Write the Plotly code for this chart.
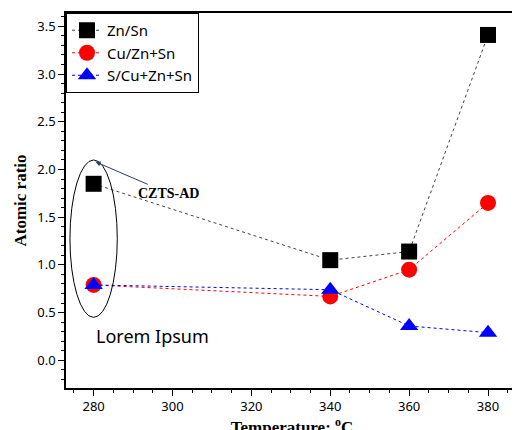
import plotly.graph_objects as go

temps = [280, 340, 360, 380]
zn_sn = [1.85, 1.05, 1.14, 3.41]
cu_znsn = [0.79, 0.67, 0.95, 1.65]
s_cuznsn = [0.79, 0.74, 0.36, 0.29]

fig = go.Figure()
series = [("Zn/Sn", zn_sn, "black", "square", "#444"),
          ("Cu/Zn+Sn", cu_znsn, "red", "circle", "red"),
          ("S/Cu+Zn+Sn", s_cuznsn, "blue", "triangle-up", "blue")]
for name, ys, col, sym, lc in series:
    fig.add_trace(go.Scatter(x=temps, y=ys, name=name, mode="lines+markers",
        line=dict(color=lc, dash="dot", width=1),
        marker=dict(color=col, symbol=sym, size=16, line=dict(width=0))))

fig.add_shape(type="circle", x0=274, x1=286, y0=0.45, y1=2.1,
              line=dict(color="black", width=1))
fig.add_annotation(x=280.5, y=2.08, ax=299, ay=1.75, axref="x", ayref="y",
    text="<b>CZTS-AD</b>", showarrow=True, arrowhead=2, arrowsize=1, arrowwidth=1,
    font=dict(family="Liberation Serif", size=14, color="black"))
fig.add_annotation(x=295, y=0.26, text="Lorem Ipsum", showarrow=False,
    font=dict(family="Noto Sans", size=18, color="black"))

axcommon = dict(showline=True, linecolor="black", linewidth=1.5, mirror=True,
    ticks="outside", ticklen=6, tickcolor="black", showgrid=False, zeroline=False,
    tickfont=dict(family="Noto Sans", size=13, color="black"),
    minor=dict(ticks="outside", ticklen=3, tickcolor="black"))
fig.update_xaxes(range=[273, 387.6], tickvals=[280, 300, 320, 340, 360, 380],
    title=dict(text="<b>Temperature: <sup>o</sup>C</b>", standoff=6,
               font=dict(family="Liberation Serif", size=17, color="black")),
    **axcommon)
fig.update_yaxes(range=[-0.29, 3.64], dtick=0.5, tickformat=".1f",
    title=dict(text="<b>Atomic ratio</b>", standoff=6,
               font=dict(family="Liberation Serif", size=17, color="black")),
    **axcommon)
fig.update_layout(width=520, height=430, plot_bgcolor="white", paper_bgcolor="white",
    margin=dict(l=58, r=10, t=5, b=50, autoexpand=False),
    legend=dict(x=0.0, y=1.0, xanchor="left", yanchor="top", bordercolor="black",
        borderwidth=1, bgcolor="white", font=dict(family="Noto Sans", size=15, color="black")),
    showlegend=True)
fig.write_html("out.html")
